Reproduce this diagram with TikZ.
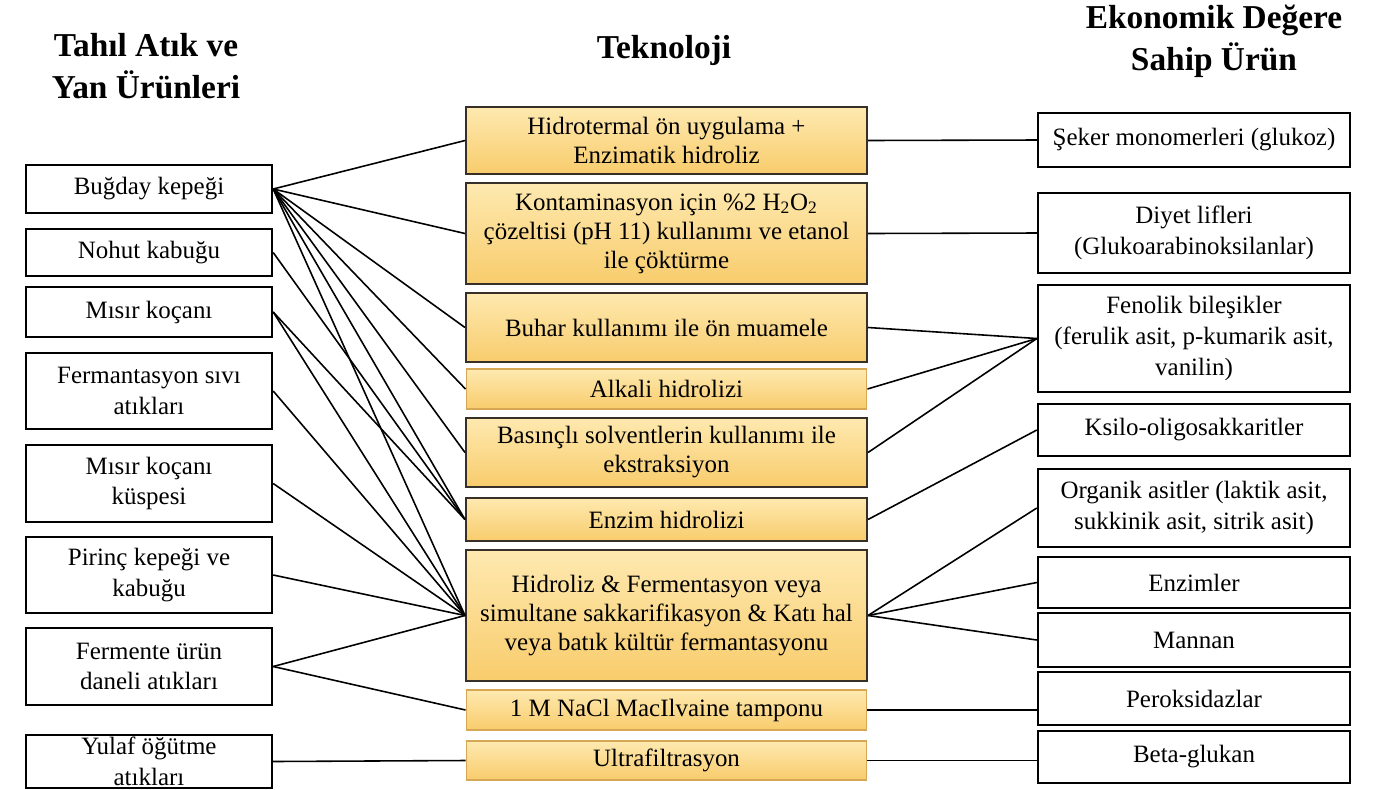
\documentclass[tikz,border=0pt]{standalone}
\usepackage{fontspec}
\setmainfont{Liberation Serif}
\usepackage{xcolor}
\usepackage{tikz}
\definecolor{techtop}{RGB}{254,233,176}
\definecolor{techbot}{RGB}{248,204,108}
\definecolor{techedge}{RGB}{55,48,40}
\definecolor{techsoft}{RGB}{214,168,86}

\begin{document}
\begin{tikzpicture}[
    x=0.02cm, y=-0.02cm,
    head/.style={font=\fontsize{19}{24}\selectfont\bfseries, align=center},
    waste/.style={rectangle, draw, line width=1.4pt, fill=white,
      minimum width=4.92cm, inner sep=1pt, align=center,
      font=\fontsize{14.2}{17.5}\selectfont},
    tech/.style={rectangle, draw=techedge, line width=1.2pt,
      top color=techtop, bottom color=techbot,
      minimum width=8.02cm, inner sep=1pt, align=center,
      font=\fontsize{14.2}{16.5}\selectfont},
    techsoft/.style={tech, draw=techsoft, line width=0.6pt},
    product/.style={waste, minimum width=6.24cm},
    link/.style={line width=0.9pt}
]
\useasboundingbox (0,0) rectangle (1400,789);

% column titles
\node[head] (hw) at (146,66)  {Tahıl Atık ve\\Yan Ürünleri};
\node[head] (ht) at (664,50)  {Teknoloji};
\node[head] (hp) at (1214,41) {Ekonomik Değere\\Sahip Ürün};

% waste and by-products
\node[waste, minimum height=0.96cm] (w1) at (149,189)   {Buğday kepeği};
\node[waste, minimum height=0.94cm] (w2) at (149,252.5) {Nohut kabuğu};
\node[waste, minimum height=1.00cm] (w3) at (149,312)   {Mısır koçanı};
\node[waste, minimum height=1.52cm] (w4) at (149,391)   {Fermantasyon sıvı\\atıkları};
\node[waste, minimum height=1.54cm] (w5) at (149,483.5) {Mısır koçanı\\küspesi};
\node[waste, minimum height=1.52cm] (w6) at (149,575)   {Pirinç kepeği ve\\kabuğu};
\node[waste, minimum height=1.54cm] (w7) at (149,666.5) {Fermente ürün\\daneli atıkları};
\node[waste, minimum height=1.06cm] (w8) at (149,761.5) {Yulaf öğütme\\atıkları};

% technologies
\node[tech, minimum height=1.34cm] (t1) at (666.5,140.5) {Hidrotermal ön uygulama +\\Enzimatik hidroliz};
\node[tech, minimum height=2.02cm] (t2) at (666.5,233.5) {Kontaminasyon için \%2 H\textsubscript{2}O\textsubscript{2}\\çözeltisi (pH 11) kullanımı ve etanol\\ile çöktürme};
\node[tech, minimum height=1.38cm] (t3) at (666.5,327.5) {Buhar kullanımı ile ön muamele};
\node[techsoft, minimum height=0.80cm] (t4) at (666.5,389) {Alkali hidrolizi};
\node[tech, minimum height=1.38cm] (t5) at (666.5,452.5) {Basınçlı solventlerin kullanımı ile\\ekstraksiyon};
\node[tech, minimum height=0.86cm] (t6) at (666.5,519.5) {Enzim hidrolizi};
\node[tech, minimum height=2.62cm] (t7) at (666.5,615.5) {Hidroliz \& Fermentasyon veya\\simultane sakkarifikasyon \& Katı hal\\veya batık kültür fermantasyonu};
\node[techsoft, minimum height=0.80cm] (t8) at (666.5,710) {1 M NaCl MacIlvaine tamponu};
\node[techsoft, minimum height=0.78cm] (t9) at (666.5,760.5) {Ultrafiltrasyon};

% products
\node[product, minimum height=1.08cm] (p1) at (1194,140)   {Şeker monomerleri (glukoz)};
\node[product, minimum height=1.60cm] (p2) at (1194,233)   {Diyet lifleri\\(Glukoarabinoksilanlar)};
\node[product, minimum height=2.14cm] (p3) at (1194,338.5) {Fenolik bileşikler\\(ferulik asit, p-kumarik asit,\\vanilin)};
\node[product, minimum height=1.04cm] (p4) at (1194,430)   {Ksilo-oligosakkaritler};
\node[product, minimum height=1.56cm] (p5) at (1194,508)   {Organik asitler (laktik asit,\\sukkinik asit, sitrik asit)};
\node[product, minimum height=1.02cm] (p6) at (1194,582.5) {Enzimler};
\node[product, minimum height=1.08cm] (p7) at (1194,640)   {Mannan};
\node[product, minimum height=1.06cm] (p8) at (1194,698.5) {Peroksidazlar};
\node[product, minimum height=1.04cm] (p9) at (1194,757)   {Beta-glukan};

% waste -> technology
\foreach \t in {1,...,7}
  \draw[link] (w1.east) -- (t\t.west);
\draw[link] (w2.east) -- (t6.west);
\foreach \t in {6,7}
  \draw[link] (w3.east) -- (t\t.west);
\foreach \w in {4,...,7}
  \draw[link] (w\w.east) -- (t7.west);
\draw[link] (w7.east) -- (t8.west);
\draw[link] (w8.east) -- (t9.west);

% technology -> product
\draw[link] (t1.east) -- (p1.west);
\draw[link] (t2.east) -- (p2.west);
\foreach \t in {3,4,5}
  \draw[link] (t\t.east) -- (p3.west);
\draw[link] (t6.east) -- (p4.west);
\foreach \p in {5,6,7}
  \draw[link] (t7.east) -- (p\p.west);
\draw[link] (t8.east) -- (t8.east -| p8.west);
\draw[link] (t9.east) -- (t9.east -| p9.west);
\end{tikzpicture}
\end{document}
